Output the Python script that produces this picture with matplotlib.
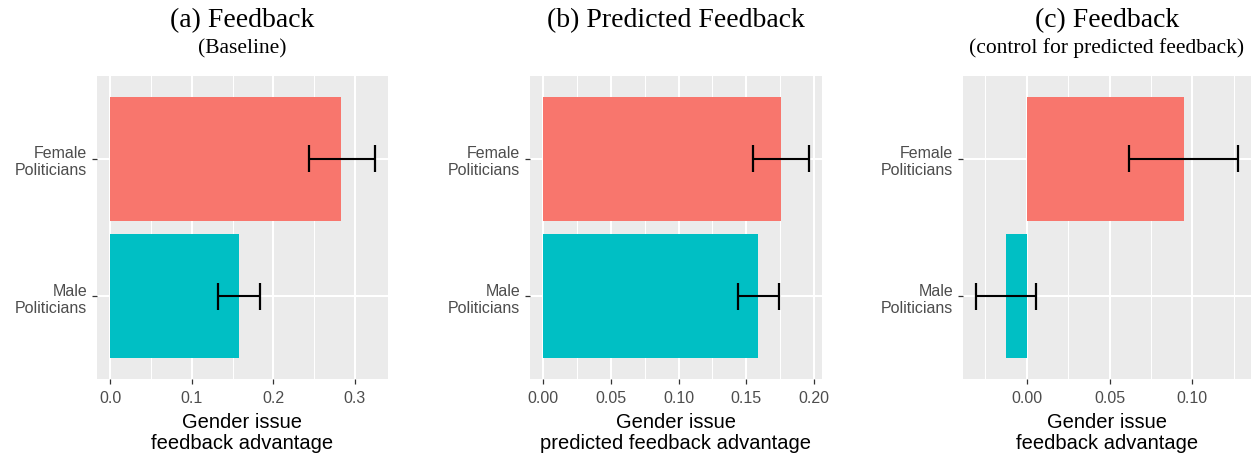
"""Gender issue feedback advantage by politician gender, three panels."""

import matplotlib
matplotlib.use("Agg")
import matplotlib.pyplot as plt
from matplotlib.ticker import FixedLocator

W, H, DPI = 1253, 456, 100

# bar order from bottom to top
groups = ["Male\nPoliticians", "Female\nPoliticians"]
bar_colors = ["#00BFC4", "#F8766D"]

# (a) feedback, baseline
fb_est = [0.158, 0.2836]
fb_lo = [0.1326, 0.2436]
fb_hi = [0.184, 0.3245]
fb_ticks = [0.0, 0.1, 0.2, 0.3]
fb_ticklabels = ["0.0", "0.1", "0.2", "0.3"]

# (b) predicted feedback
pred_est = [0.159, 0.1757]
pred_lo = [0.144, 0.1551]
pred_hi = [0.174, 0.1962]
pred_ticks = [0.00, 0.05, 0.10, 0.15, 0.20]
pred_ticklabels = ["0.00", "0.05", "0.10", "0.15", "0.20"]

# (c) feedback controlling for predicted feedback
ctrl_est = [-0.0126, 0.0947]
ctrl_lo = [-0.0306, 0.0619]
ctrl_hi = [0.0053, 0.1275]
ctrl_ticks = [0.00, 0.05, 0.10]
ctrl_ticklabels = ["0.00", "0.05", "0.10"]

SANS = "Liberation Sans"
SERIF = "Liberation Serif"
PANEL_TOP, PANEL_BOTTOM = 77, 380


def px_box(x0, x1, y0, y1):
    return [x0 / W, 1 - y1 / H, (x1 - x0) / W, (y1 - y0) / H]


def draw_panel(ax, est, lo, hi, ticks, ticklabels, xlabel):
    ypos = [1, 2]
    ax.set_facecolor("#EBEBEB")
    for s in ax.spines.values():
        s.set_visible(False)

    ax.barh(ypos, est, height=0.9, color=bar_colors, zorder=2)
    ax.hlines(ypos, lo, hi, color="black", linewidth=1.5, zorder=3)
    for y, a, b in zip(ypos, lo, hi):
        ax.vlines([a, b], y - 0.1, y + 0.1, color="black", linewidth=1.6, zorder=3)

    # ggplot-style expansion: 5% continuous, 0.6 discrete
    xmin = min(min(lo), 0.0)
    xmax = max(max(hi), 0.0)
    span = xmax - xmin
    ax.set_xlim(xmin - 0.05 * span, xmax + 0.05 * span)
    ax.set_ylim(0.4, 2.6)

    ax.set_xticks(ticks)
    ax.set_xticklabels(ticklabels)
    minors = [(a + b) / 2 for a, b in zip(ticks[:-1], ticks[1:])]
    step = ticks[1] - ticks[0]
    minors = [ticks[0] - step / 2] + minors + [ticks[-1] + step / 2]
    ax.xaxis.set_minor_locator(FixedLocator(minors))
    ax.set_yticks(ypos)
    ax.set_yticklabels(groups)

    ax.grid(which="major", color="white", linewidth=1.5, zorder=0)
    ax.grid(which="minor", axis="x", color="white", linewidth=0.75, zorder=0)
    ax.set_axisbelow(True)

    ax.tick_params(which="major", length=3.5, width=0.9, color="#333333",
                   labelcolor="#4D4D4D", labelsize=11.5)
    ax.tick_params(axis="x", pad=4.5)
    ax.tick_params(axis="y", pad=3.5)
    ax.tick_params(which="minor", length=0)
    for lab in ax.get_xticklabels() + ax.get_yticklabels():
        lab.set_fontfamily(SANS)
    for lab in ax.get_yticklabels():
        lab.set_linespacing(1.15)

    ax.set_xlabel(xlabel, fontfamily=SANS, fontsize=14.5, color="black",
                  linespacing=1.12, labelpad=5)


fig = plt.figure(figsize=(W / DPI, H / DPI), dpi=DPI)

panels = [
    ((97, 388), fb_est, fb_lo, fb_hi, fb_ticks, fb_ticklabels,
     "Gender issue\nfeedback advantage", "(a) Feedback", "(Baseline)"),
    ((530, 822), pred_est, pred_lo, pred_hi, pred_ticks, pred_ticklabels,
     "Gender issue\npredicted feedback advantage", "(b) Predicted Feedback", None),
    ((963, 1251), ctrl_est, ctrl_lo, ctrl_hi, ctrl_ticks, ctrl_ticklabels,
     "Gender issue\nfeedback advantage", "(c) Feedback", "(control for predicted feedback)"),
]

for (x0, x1), est, lo, hi, ticks, tlabels, xlabel, title, subtitle in panels:
    ax = fig.add_axes(px_box(x0, x1, PANEL_TOP, PANEL_BOTTOM))
    draw_panel(ax, est, lo, hi, ticks, tlabels, xlabel)
    cx = (x0 + x1) / 2 / W
    fig.text(cx, 1 - 27 / H, title, ha="center", va="baseline",
             fontfamily=SERIF, fontsize=20)
    if subtitle:
        fig.text(cx, 1 - 53 / H, subtitle, ha="center", va="baseline",
                 fontfamily=SERIF, fontsize=15.5)

fig.savefig("out.png", dpi=DPI, facecolor="white")
